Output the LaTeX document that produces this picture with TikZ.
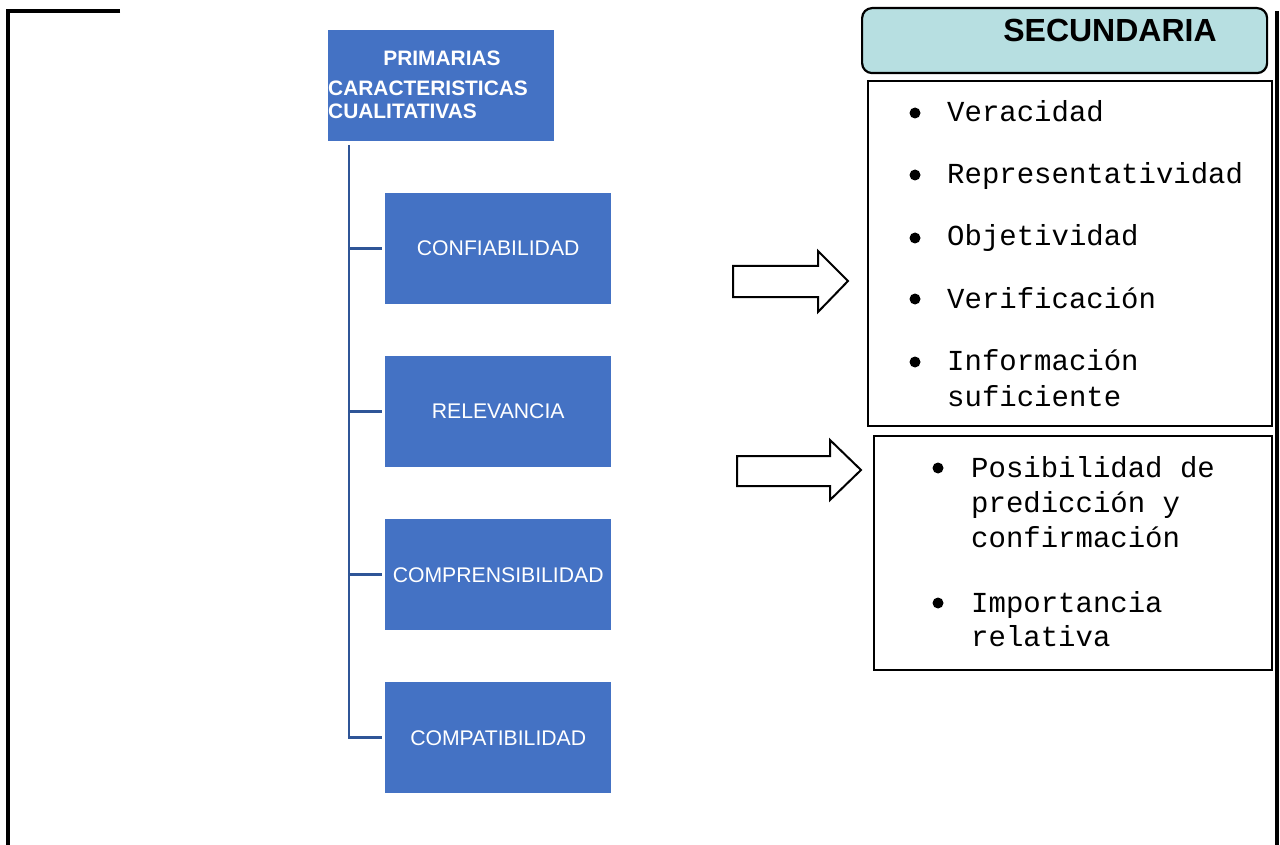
\documentclass[tikz,border=0pt]{standalone}
\usepackage{fontspec}
\setmainfont{Liberation Sans}
\newfontfamily\monof{Liberation Mono}
\definecolor{boxblue}{HTML}{4472C4}
\definecolor{linkblue}{HTML}{2F5597}
\definecolor{teal}{HTML}{B7DFE1}
\begin{document}
\begin{tikzpicture}[x=1pt,y=-1pt,
  frame/.style={line width=3.2pt,black},
  bluebox/.style={fill=boxblue,draw=none,minimum width=226pt,minimum height=111pt,inner sep=0pt,text=white,font=\fontsize{21.2}{24}\selectfont},
  headtxt/.style={text=white,inner sep=0pt,font=\bfseries\fontsize{20.9}{24}\selectfont},
  link/.style={draw=linkblue,line width=2.6pt},
  listbox/.style={draw=black,line width=2.4pt,inner sep=0pt},
  item/.style={anchor=base west,inner sep=0pt,font=\monof\fontsize{29}{34}\selectfont},
  dot/.style={circle,fill=black,inner sep=0pt,minimum size=11pt},
  blockarrow/.style={draw=black,line width=2pt,fill=white,line join=miter}
]
\useasboundingbox (0,0) rectangle (1280,845);
% outer frame
\draw[frame] (120,11) -- (8,11) -- (8,846);
\draw[frame] (1277,11) -- (1277,846);

% primary box
\node[bluebox,anchor=north west] (prim) at (328,30) {};
\node[headtxt] (primA) at (442,58) {PRIMARIAS};
\node[headtxt,anchor=west] (primB) at (328,88) {CARACTERISTICAS};
\node[headtxt,anchor=west] (primC) at (328,111) {CUALITATIVAS};

% children
\node[bluebox,anchor=north west] (c1) at (385,193) {CONFIABILIDAD};
\node[bluebox,anchor=north west] (c2) at (385,356) {RELEVANCIA};
\node[bluebox,anchor=north west] (c3) at (385,519) {COMPRENSIBILIDAD};
\node[bluebox,anchor=north west] (c4) at (385,682) {COMPATIBILIDAD};

% tree connectors
\coordinate (trunk) at (349,145);
\draw[link] (trunk) |- ([xshift=-3pt]c4.west);
\draw[link] (trunk |- c1.west) -- ([xshift=-3pt]c1.west);
\draw[link] (trunk |- c2.west) -- ([xshift=-3pt]c2.west);
\draw[link] (trunk |- c3.west) -- ([xshift=-3pt]c3.west);

% secondary header
\node[draw=black,line width=2.2pt,fill=teal,rounded corners=10pt,anchor=north west,minimum width=405pt,minimum height=65pt,inner sep=0pt] (sec) at (861,7) {};
\node[inner sep=0pt,font=\bfseries\fontsize{32}{36}\selectfont] (secT) at (1110,30) {SECUNDARIA};

% list box 1
\node[listbox,anchor=north west,minimum width=404pt,minimum height=345pt] (l1) at (867,80) {};
\node[dot] (d1) at (915,113) {};
\node[item] (t1) at (947,122) {Veracidad};
\node[dot] (d2) at (915,175) {};
\node[item] (t2) at (947,184) {Representatividad};
\node[dot] (d3) at (915,238) {};
\node[item] (t3) at (947,246) {Objetividad};
\node[dot] (d4) at (915,299) {};
\node[item] (t4) at (947,308) {Verificación};
\node[dot] (d5) at (915,362) {};
\node[item] (t5) at (947,370) {Información};
\node[item] (t6) at (947,406) {suficiente};

% list box 2
\node[listbox,anchor=north west,minimum width=398pt,minimum height=234pt] (l2) at (873,435) {};
\node[dot] (e1) at (938,468) {};
\node[item] (u1) at (971,477) {Posibilidad de};
\node[item] (u2) at (971,512) {predicción y};
\node[item] (u3) at (971,547) {confirmación};
\node[dot] (e2) at (938,603) {};
\node[item] (u4) at (971,612) {Importancia};
\node[item] (u5) at (971,646) {relativa};

% block arrows
\draw[blockarrow] (733,266) -- (818,266) -- (818,251) -- (848,281) -- (818,312) -- (818,297) -- (733,297) -- cycle;
\draw[blockarrow] (737,456) -- (830,456) -- (830,440) -- (861,470) -- (830,500) -- (830,486) -- (737,486) -- cycle;
\end{tikzpicture}
\end{document}
